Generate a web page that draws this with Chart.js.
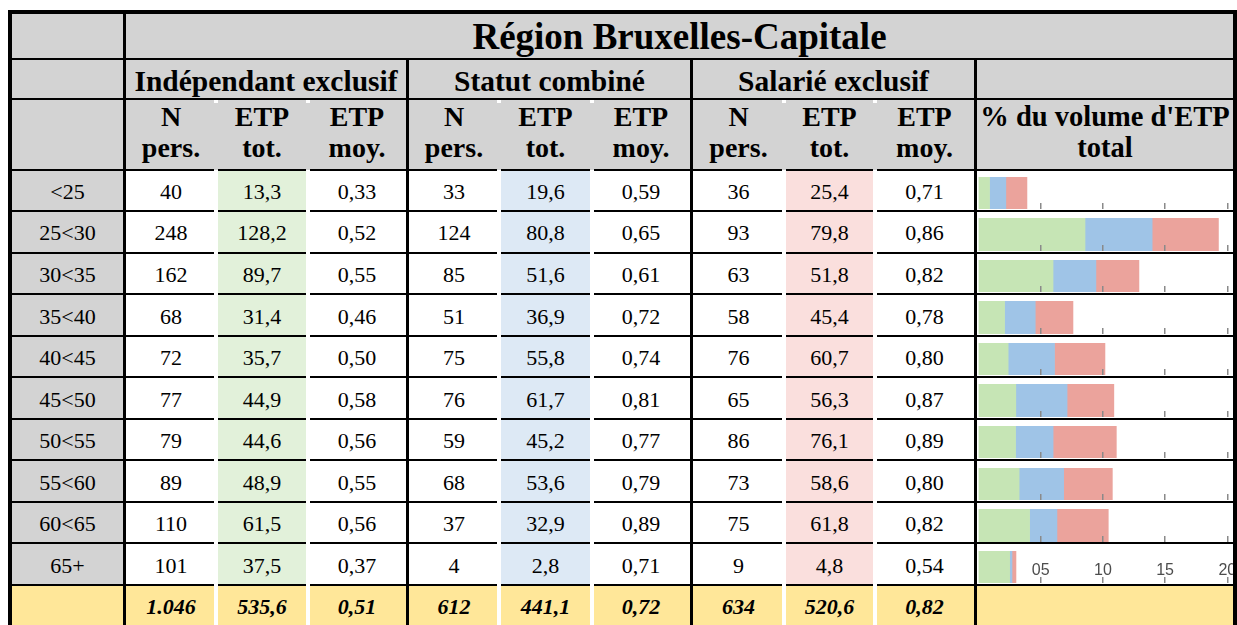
<!DOCTYPE html>
<html>
<head>
<meta charset="utf-8">
<script src="https://cdn.jsdelivr.net/npm/chart.js@4"></script>
<style>
body { margin: 0; background: #fff; width: 1237px; height: 625px; overflow: hidden; position: relative;
       font-family: "Liberation Serif", "Times New Roman", serif; }
.b { position: absolute; }
.t { position: absolute; white-space: nowrap; text-align: center; color: #000; }
.w { position: absolute; overflow: hidden; }
</style>
</head>
<body>
<div id="sheet"></div>
<script>
const ageGroups = ['<25', '25<30', '30<35', '35<40', '40<45', '45<50', '50<55', '55<60', '60<65', '65+'];
const indN = [40, 248, 162, 68, 72, 77, 79, 89, 110, 101];
const indEtp = [13.3, 128.2, 89.7, 31.4, 35.7, 44.9, 44.6, 48.9, 61.5, 37.5];
const indMoy = [0.33, 0.52, 0.55, 0.46, 0.50, 0.58, 0.56, 0.55, 0.56, 0.37];
const combN = [33, 124, 85, 51, 75, 76, 59, 68, 37, 4];
const combEtp = [19.6, 80.8, 51.6, 36.9, 55.8, 61.7, 45.2, 53.6, 32.9, 2.8];
const combMoy = [0.59, 0.65, 0.61, 0.72, 0.74, 0.81, 0.77, 0.79, 0.89, 0.71];
const salN = [36, 93, 63, 58, 76, 65, 86, 73, 75, 9];
const salEtp = [25.4, 79.8, 51.8, 45.4, 60.7, 56.3, 76.1, 58.6, 61.8, 4.8];
const salMoy = [0.71, 0.86, 0.82, 0.78, 0.80, 0.87, 0.89, 0.80, 0.82, 0.54];
const totN = [1046, 612, 634];
const totEtp = [535.6, 441.1, 520.6];
const totMoy = [0.51, 0.72, 0.82];
const groupNames = ['Indépendant exclusif', 'Statut combiné', 'Salarié exclusif'];
const colHeads = [['N', 'pers.'], ['ETP', 'tot.'], ['ETP', 'moy.']];
const title = 'Région Bruxelles-Capitale';
const chartHead = ["% du volume d'ETP", 'total'];
const tickValues = [5, 10, 15, 20];
const tickLabels = ['05', '10', '15', '20'];

const GREY = '#d3d3d3', YELLOW = '#ffe799';
const lightCols = ['#e2f1da', '#dde9f5', '#fadfdd'];
const barCols = ['#c6e5b5', '#9fc4e7', '#eba39c'];

const sheet = document.getElementById('sheet');

function box(x, y, w, h, color) {
    const d = document.createElement('div');
    d.className = 'b';
    d.style.cssText = `left:${x}px;top:${y}px;width:${w}px;height:${h}px;background:${color}`;
    sheet.appendChild(d);
    return d;
}

function text(str, cx, baseline, fs, weight, style) {
    const d = document.createElement('div');
    d.className = 't';
    const lh = Math.round(fs * 1.2);
    const top = baseline - 0.891 * fs - (lh - 1.107 * fs) / 2;
    d.style.cssText = `left:${cx - 400}px;width:800px;top:${top}px;line-height:${lh}px;` +
        `font-size:${fs}px;font-weight:${weight};font-style:${style || 'normal'}`;
    d.textContent = str;
    sheet.appendChild(d);
}

const fmtInt = v => String(v).replace(/\B(?=(\d{3})+(?!\d))/g, '.');
const fmt = (v, d) => v.toFixed(d).replace('.', ',');

// column edges per group
const groups = [[126, 216, 308, 406], [409, 499, 592, 690], [693, 784, 875, 974]];
const G = 2;
const rowLine = i => 169.5 + 41.55 * i;
const chartL = 977, chartR = 1233;

// header background
box(12, 14, 1221, 156, GREY);

// data rows backgrounds
for (let i = 0; i <= 10; i++) {
    const y0 = rowLine(i) + 1, y1 = (i < 10 ? rowLine(i + 1) - 1 : 625);
    const isTot = i === 10;
    box(12, y0, 111, y1 - y0, isTot ? YELLOW : GREY);
    groups.forEach((e, g) => {
        for (let c = 0; c < 3; c++) {
            const xa = e[c] + (c > 0 ? G : 0), xb = e[c + 1] - (c < 2 ? G : 0);
            if (isTot) box(xa, y0, xb - xa, y1 - y0, YELLOW);
            else if (c === 1) box(xa, y0, xb - xa, y1 - y0, lightCols[g]);
        }
    });
    if (isTot) box(chartL, y0, chartR - chartL, y1 - y0, YELLOW);
}

// horizontal lines of data rows (broken between cells of a group)
for (let i = 0; i <= 10; i++) {
    const y = Math.round(rowLine(i) - 1);
    box(12, y, 111, 2, '#000');
    groups.forEach(e => {
        for (let c = 0; c < 3; c++) {
            const xa = e[c] + (c > 0 ? G : 0), xb = e[c + 1] - (c < 2 ? G : 0);
            box(xa, y, xb - xa, 2, '#000');
        }
    });
    box(chartL, y, chartR - chartL, 2, '#000');
}

// header lines and small white marks
box(12, 58, 1221, 2, '#000');
box(12, 98, 1221, 2, '#000');
groups.forEach(e => {
    box(e[1] - G, 100, 2 * G, 3, '#fff');
    box(e[2] - G, 100, 2 * G, 3, '#fff');
});

// vertical lines and outer frame
box(123, 14, 3, 611, '#000');
box(406, 58, 3, 567, '#000');
box(690, 58, 3, 567, '#000');
box(974, 58, 3, 567, '#000');
box(8, 10, 4, 615, '#000');
box(8, 10, 1229, 4, '#000');
box(1233, 10, 4, 615, '#000');

// header texts
text(title, 679.5, 49.3, 37, 'bold');
groupNames.forEach((n, g) => text(n, (groups[g][0] + groups[g][3]) / 2, 91.7, 29.5, 'bold'));
groups.forEach(e => {
    for (let c = 0; c < 3; c++) {
        const cx = (e[c] + e[c + 1]) / 2;
        text(colHeads[c][0], cx, 126.7, 28, 'bold');
        text(colHeads[c][1], cx, 157.3, 28, 'bold');
    }
});
text(chartHead[0], (chartL + chartR) / 2, 126.7, 28.5, 'bold');
text(chartHead[1], (chartL + chartR) / 2, 157.3, 28.5, 'bold');

// body texts
const cols = [[indN, indEtp, indMoy], [combN, combEtp, combMoy], [salN, salEtp, salMoy]];
for (let i = 0; i < 10; i++) {
    const bl = rowLine(i) + 29.8;
    text(ageGroups[i], 67.5, bl, 22, 'normal');
    cols.forEach((set, g) => {
        const e = groups[g];
        text(fmtInt(set[0][i]), (e[0] + e[1]) / 2, bl, 22, 'normal');
        text(fmt(set[1][i], 1), (e[1] + e[2]) / 2, bl, 22, 'normal');
        text(fmt(set[2][i], 2), (e[2] + e[3]) / 2, bl, 22, 'normal');
    });
}
const blT = rowLine(10) + 29.3;
groups.forEach((e, g) => {
    text(fmtInt(totN[g]), (e[0] + e[1]) / 2, blT, 22, 'bold', 'italic');
    text(fmt(totEtp[g], 1), (e[1] + e[2]) / 2, blT, 22, 'bold', 'italic');
    text(fmt(totMoy[g], 2), (e[2] + e[3]) / 2, blT, 22, 'bold', 'italic');
});

// bar charts: share of total ETP, one small chart per row
const grandTotal = totEtp.reduce((a, b) => a + b, 0);
const etpSeries = [indEtp, combEtp, salEtp];
const CW = 270;

for (let i = 0; i < 10; i++) {
    const top = Math.round(rowLine(i) + 7.2);
    const bottom = Math.round(rowLine(i + 1) - 1.9);
    const h = bottom - top;
    const wrap = document.createElement('div');
    wrap.className = 'w';
    wrap.style.cssText = `left:${chartL}px;top:${top}px;width:${chartR - chartL}px;height:${h}px`;
    const cv = document.createElement('canvas');
    cv.width = CW;
    cv.height = h;
    cv.style.width = CW + 'px';
    cv.style.height = h + 'px';
    wrap.appendChild(cv);
    sheet.appendChild(wrap);

    const isLast = i === 9;
    new Chart(cv, {
        type: 'bar',
        data: {
            labels: [ageGroups[i]],
            datasets: groupNames.map((n, g) => ({
                label: n,
                data: [etpSeries[g][i] / grandTotal * 100],
                backgroundColor: barCols[g],
                borderWidth: 0,
                barPercentage: 1,
                categoryPercentage: 1
            }))
        },
        options: {
            indexAxis: 'y',
            responsive: false,
            animation: false,
            devicePixelRatio: 1,
            layout: { padding: { left: 1.5, right: CW - 1.5 - 248.8, top: 0, bottom: 0 } },
            plugins: { legend: { display: false }, tooltip: { enabled: false } },
            scales: {
                y: { stacked: true, display: false },
                x: {
                    type: 'linear',
                    stacked: true,
                    min: 0,
                    max: 20,
                    position: 'bottom',
                    afterBuildTicks: ax => { ax.ticks = ax.ticks.filter(t => t.value > 0); },
                    afterFit: ax => { ax.height = 0; },
                    border: { display: false },
                    grid: { drawOnChartArea: false, drawTicks: true, tickLength: -6,
                            tickColor: '#8a8a8a', lineWidth: 1.5, z: 1 },
                    ticks: {
                        stepSize: 5,
                        autoSkip: false,
                        maxRotation: 0,
                        mirror: true,
                        padding: 3,
                        z: 1,
                        color: '#4d4d4d',
                        font: { family: 'Liberation Sans', size: 16 },
                        callback: v => isLast ? tickLabels[tickValues.indexOf(v)] : ''
                    }
                }
            }
        }
    });
}
</script>
</body>
</html>
